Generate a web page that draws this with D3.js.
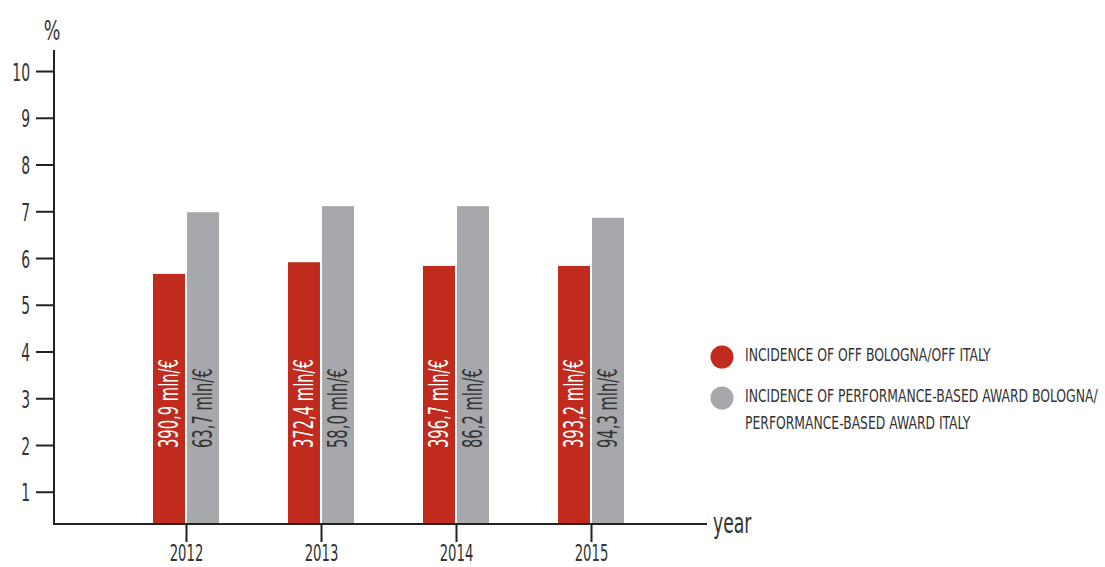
<!DOCTYPE html>
<html>
<head>
<meta charset="utf-8">
<script src="https://cdn.jsdelivr.net/npm/d3@7"></script>
<style>
  html, body { margin: 0; padding: 0; background: #fff; }
  svg { display: block; }
  text { font-family: 'Liberation Sans Narrow', 'DejaVu Sans Condensed', 'Roboto Condensed', sans-serif; fill: #333; }
</style>
</head>
<body>
<svg id="chart" width="1105" height="567"></svg>
<script>
// ---- data ----
const years = ["2012", "2013", "2014", "2015"];
const offValues = [5.66, 5.91, 5.83, 5.83];
const awardValues = [6.98, 7.11, 7.11, 6.86];
const offLabels = ["390,9 mln/€", "372,4 mln/€", "396,7 mln/€", "393,2 mln/€"];
const awardLabels = ["63,7 mln/€", "58,0 mln/€", "86,2 mln/€", "94,3 mln/€"];
const yTicks = [1, 2, 3, 4, 5, 6, 7, 8, 9, 10];
const seriesNames = ["INCIDENCE OF OFF BOLOGNA/OFF ITALY",
  "INCIDENCE OF PERFORMANCE-BASED AWARD BOLOGNA/|PERFORMANCE-BASED AWARD ITALY"];

// ---- styles ----
const RED = "#c02b1d", GRAY = "#a7a8ab", AXIS = "#222";
const SX_NUM = 0.62;   // squeeze for tick numbers
const SX_VAL = 0.63;   // squeeze for bar value labels
const SX_LEG = 0.81;   // squeeze for legend text

const svg = d3.select("#chart");
const axisLeftX = 54, axisBottomY = 524, axisTopY = 50, axisRightX = 707;

const y = d3.scaleLinear().domain([0.31, 10.45]).range([axisBottomY, axisTopY]);
const x = d3.scalePoint().domain(years).range([186, 591]);
const sub = d3.scaleBand().domain(["off", "award"]).range([-33, 33]).paddingInner(0.06);

const rows = years.map((yr, i) => ({
  year: yr,
  bars: [
    { key: "off", value: offValues[i], label: offLabels[i], color: RED, textColor: "#fff" },
    { key: "award", value: awardValues[i], label: awardLabels[i], color: GRAY, textColor: "#333" }
  ]
}));

// bars
const groups = svg.append("g").selectAll("g").data(rows).join("g")
  .attr("transform", d => `translate(${x(d.year)},0)`);

groups.selectAll("rect").data(d => d.bars).join("rect")
  .attr("x", d => sub(d.key))
  .attr("width", sub.bandwidth())
  .attr("y", d => y(d.value))
  .attr("height", d => y(0.31) - y(d.value))
  .attr("fill", d => d.color);

groups.selectAll("text.val").data(d => d.bars).join("text")
  .attr("class", "val")
  .attr("transform", d => `translate(${sub(d.key) + sub.bandwidth() / 2},448) rotate(-90) scale(${SX_VAL},1)`)
  .attr("dy", "0.36em")
  .attr("font-size", 26)
  .style("fill", d => d.textColor)
  .text(d => d.label);

// y axis
const yAxis = d3.axisLeft(y).tickValues(yTicks).tickSize(18).tickSizeOuter(0).tickPadding(0);
const gy = svg.append("g").attr("transform", `translate(${axisLeftX},0)`).call(yAxis);
gy.select(".domain").remove();
gy.selectAll(".tick line").attr("stroke", AXIS).attr("stroke-width", 2);
gy.selectAll(".tick text").remove();
gy.selectAll(".tick").append("text")
  .attr("transform", `translate(-24,0) scale(${SX_NUM},1)`)
  .attr("text-anchor", "end")
  .attr("dy", "0.36em")
  .attr("font-size", 25)
  .style("fill", "#333")
  .text(d => d);

svg.append("line").attr("x1", axisLeftX).attr("x2", axisLeftX)
  .attr("y1", axisTopY).attr("y2", axisBottomY + 1)
  .attr("stroke", AXIS).attr("stroke-width", 2);

svg.append("text")
  .attr("transform", `translate(${axisLeftX - 2},40) scale(0.75,1)`)
  .attr("text-anchor", "middle")
  .attr("font-size", 26)
  .text("%");

// x axis
const xAxis = d3.axisBottom(x).tickSize(18).tickSizeOuter(0).tickPadding(0);
const gx = svg.append("g").attr("transform", `translate(0,${axisBottomY})`).call(xAxis);
gx.select(".domain").remove();
gx.selectAll(".tick line").attr("stroke", AXIS).attr("stroke-width", 2);
gx.selectAll(".tick text").remove();
gx.selectAll(".tick").append("text")
  .attr("transform", `translate(0,37) scale(0.64,1)`)
  .attr("text-anchor", "middle")
  .attr("font-size", 23)
  .style("fill", "#333")
  .text(d => d);

svg.append("line").attr("x1", axisLeftX - 1).attr("x2", axisRightX)
  .attr("y1", axisBottomY).attr("y2", axisBottomY)
  .attr("stroke", AXIS).attr("stroke-width", 2);

svg.append("text")
  .attr("transform", `translate(713,533) scale(0.66,1)`)
  .attr("font-size", 29)
  .text("year");

// legend
const legend = svg.append("g");
const legendItems = [
  { name: seriesNames[0], color: RED, cy: 357 },
  { name: seriesNames[1], color: GRAY, cy: 398 }
];
legendItems.forEach(it => {
  legend.append("circle").attr("cx", 722).attr("cy", it.cy).attr("r", 11.5).attr("fill", it.color);
  const t = legend.append("text")
    .attr("transform", `translate(745,${it.cy + 4}) scale(${SX_LEG},1)`)
    .attr("font-size", 17)
    .style("fill", "#333");
  it.name.split("|").forEach((line, j) => {
    t.append("tspan").attr("x", 0).attr("dy", j === 0 ? 0 : 26.7).text(line);
  });
});
</script>
</body>
</html>
